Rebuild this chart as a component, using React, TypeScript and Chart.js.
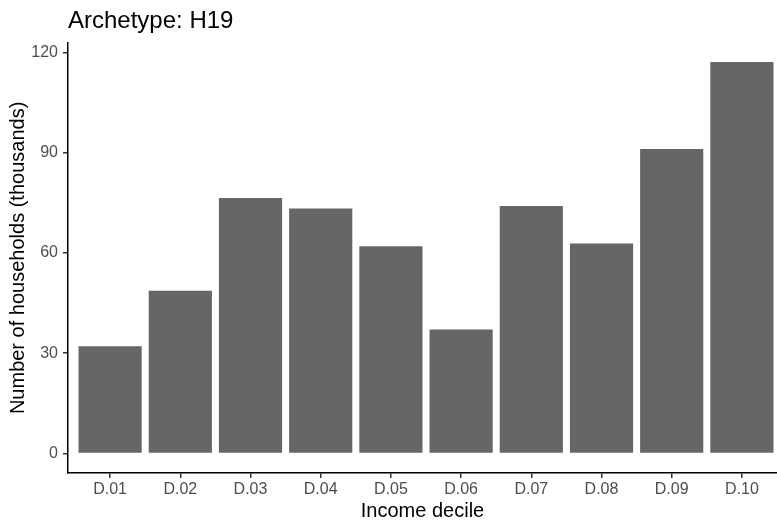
import React, { useEffect, useRef } from "react";
import { Chart, registerables } from "chart.js";

Chart.register(...registerables);

const deciles = ["D.01", "D.02", "D.03", "D.04", "D.05", "D.06", "D.07", "D.08", "D.09", "D.10"];
const households = [32.1, 48.7, 76.4, 73.3, 62.0, 37.1, 74.0, 62.8, 91.1, 117.1];
const yTicks = [0, 30, 60, 90, 120];
const titleText = "Archetype: H19";
const xTitle = "Income decile";
const yTitle = "Number of households (thousands)";

const FONT = "'Liberation Sans', Arial, sans-serif";

export default function App() {
  const ref = useRef<HTMLCanvasElement | null>(null);
  useEffect(() => {
    const canvas = ref.current;
    if (!canvas) return;
    const chart = new Chart(canvas, {
      type: "bar",
      data: {
        datasets: [
          {
            data: households.map((v, i) => ({ x: i + 1, y: v })),
            backgroundColor: "#666666",
            borderWidth: 0,
            categoryPercentage: 1,
            barPercentage: 0.9,
          },
        ],
      },
      options: {
        responsive: false,
        animation: false,
        layout: { padding: 0 },
        plugins: {
          legend: { display: false },
          tooltip: { enabled: false },
          title: {
            display: true,
            text: titleText,
            align: "start",
            fullSize: false,
            color: "#000000",
            font: { family: FONT, size: 24, weight: "normal" },
            padding: { top: 6.5, bottom: 7.5 },
          },
        },
        scales: {
          x: {
            type: "linear",
            min: 0.4,
            max: 10.5,
            offset: false,
            afterBuildTicks: (scale: any) => {
              scale.ticks = deciles.map((_, i) => ({ value: i + 1 }));
            },
            afterFit: (scale: any) => {
              scale.height = 50;
            },
            ticks: {
              autoSkip: false,
              maxRotation: 0,
              padding: 2,
              color: "#4d4d4d",
              font: { family: FONT, size: 16 },
              callback: (v: any) => deciles[Math.round(Number(v)) - 1] ?? "",
            },
            grid: {
              display: true,
              offset: false,
              drawOnChartArea: false,
              drawTicks: true,
              tickLength: 5,
              tickColor: "#333333",
              lineWidth: 1.5,
            },
            border: { display: true, color: "#000000", width: 1.5 },
            title: {
              display: true,
              text: xTitle,
              color: "#000000",
              font: { family: FONT, size: 20 },
              padding: { top: 0, bottom: 0 },
            },
          },
          y: {
            type: "linear",
            min: -5.85,
            max: 122.85,
            afterBuildTicks: (scale: any) => {
              scale.ticks = yTicks.map((v) => ({ value: v }));
            },
            afterFit: (scale: any) => {
              scale.width = 68;
            },
            ticks: {
              padding: 5,
              color: "#4d4d4d",
              font: { family: FONT, size: 16 },
            },
            grid: {
              display: true,
              drawOnChartArea: false,
              drawTicks: true,
              tickLength: 5,
              tickColor: "#333333",
              lineWidth: 1.5,
            },
            border: { display: true, color: "#000000", width: 1.5 },
            title: {
              display: true,
              text: yTitle,
              color: "#000000",
              font: { family: FONT, size: 20 },
              padding: { top: 6, bottom: 0 },
            },
          },
        },
      },
    } as any);
    return () => chart.destroy();
  }, []);
  return (
    <div style={{ position: "absolute", left: 0, top: 0, width: 777, height: 523, background: "#ffffff" }}>
      <canvas ref={ref} width={777} height={523} style={{ display: "block" }} />
    </div>
  );
}
